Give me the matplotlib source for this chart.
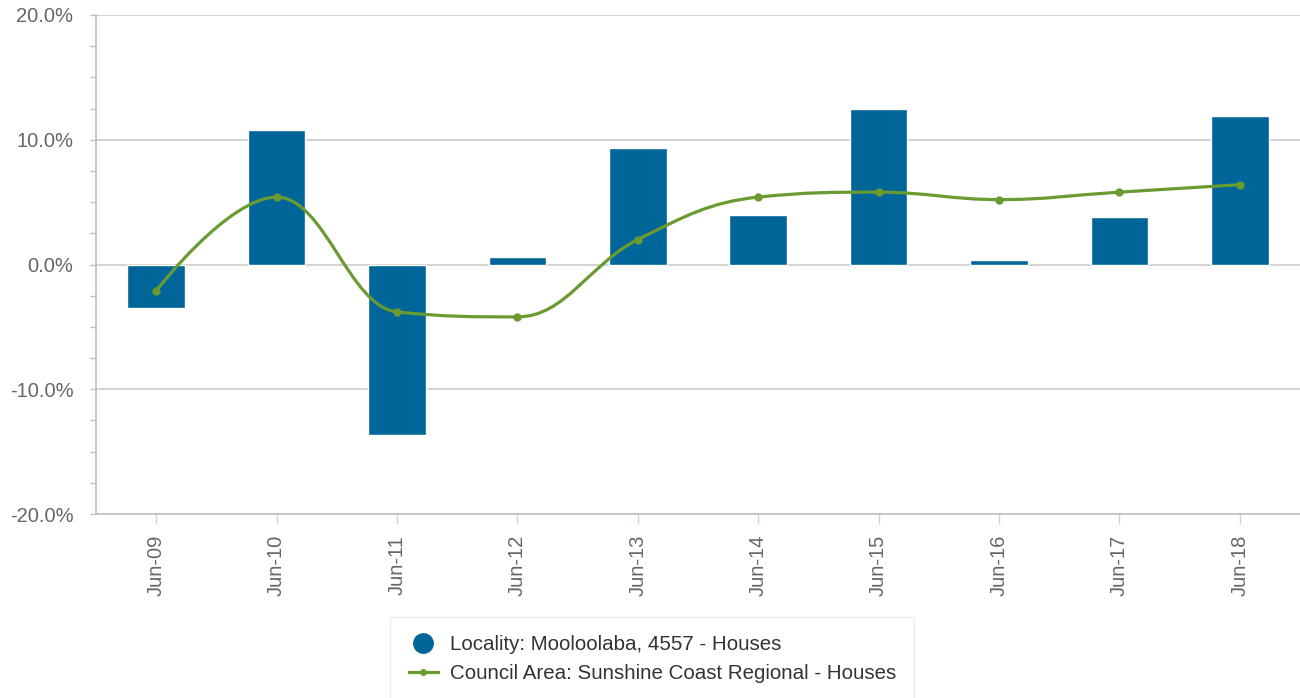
import numpy as np
import matplotlib.pyplot as plt
from matplotlib.path import Path
from matplotlib.patches import PathPatch
from matplotlib.lines import Line2D

plt.rcParams['font.family'] = ['Liberation Sans', 'DejaVu Sans']

months = ['Jun-09', 'Jun-10', 'Jun-11', 'Jun-12', 'Jun-13',
          'Jun-14', 'Jun-15', 'Jun-16', 'Jun-17', 'Jun-18']
locality = [-3.5, 10.8, -13.7, 0.6, 9.3, 4.0, 12.5, 0.35, 3.8, 11.9]
council = [-2.1, 5.4, -3.8, -4.2, 2.0, 5.4, 5.8, 5.2, 5.8, 6.4]

BLUE = '#006699'
GREEN = '#6a9a32'
GREY_TXT = '#666666'


def spline_path(xs, ys, smoothing=1.5):
    # highcharts-style spline: cubic bezier through every point
    n = len(xs)
    lc = [(x, y) for x, y in zip(xs, ys)]
    rc = [(x, y) for x, y in zip(xs, ys)]
    d = smoothing + 1
    for i in range(1, n - 1):
        px, py = xs[i], ys[i]
        lx, ly = xs[i - 1], ys[i - 1]
        nx, ny = xs[i + 1], ys[i + 1]
        lcx = (smoothing * px + lx) / d
        lcy = (smoothing * py + ly) / d
        rcx = (smoothing * px + nx) / d
        rcy = (smoothing * py + ny) / d
        if rcx != lcx:
            corr = (rcy - lcy) * (rcx - px) / (rcx - lcx) + py - rcy
            lcy += corr
            rcy += corr
        if lcy > ly and lcy > py:
            lcy = max(ly, py)
            rcy = 2 * py - lcy
        elif lcy < ly and lcy < py:
            lcy = min(ly, py)
            rcy = 2 * py - lcy
        if rcy > ny and rcy > py:
            rcy = max(ny, py)
            lcy = 2 * py - rcy
        elif rcy < ny and rcy < py:
            rcy = min(ny, py)
            lcy = 2 * py - rcy
        lc[i] = (lcx, lcy)
        rc[i] = (rcx, rcy)
    verts = [(xs[0], ys[0])]
    codes = [Path.MOVETO]
    for i in range(1, n):
        verts += [rc[i - 1], lc[i], (xs[i], ys[i])]
        codes += [Path.CURVE4] * 3
    return Path(verts, codes)


fig = plt.figure(figsize=(13, 6.98), dpi=100)
ax = fig.add_axes([96 / 1300, 1 - 514 / 698, 1204 / 1300, 499 / 698])

x = np.arange(len(months))
ax.bar(x, locality, width=0.48, color=BLUE, edgecolor='white', linewidth=1, zorder=2)

ax.add_patch(PathPatch(spline_path(list(x), council), facecolor='none',
                       edgecolor=GREEN, linewidth=2.3, zorder=3))
ax.plot(x, council, 'o', color=GREEN, markersize=5, zorder=4)

ax.set_xlim(-0.5, 9.5)
ax.set_ylim(-20, 20)
ax.set_yticks([-20, -10, 0, 10, 20])
ax.set_yticklabels(['-20.0%', '-10.0%', '0.0%', '10.0%', '20.0%'])
ax.set_yticks(np.arange(-20, 20.1, 2.5), minor=True)
ax.set_xticks(x)
ax.set_xticklabels(months, rotation=90)

ax.grid(axis='y', color='#cccccc', linewidth=1.2, zorder=0)
for s in ['top', 'right']:
    ax.spines[s].set_visible(False)
ax.spines['left'].set_color('#c0c0c0')
ax.spines['bottom'].set_color('#c0c0c0')
ax.spines['left'].set_linewidth(1.2)
ax.spines['bottom'].set_linewidth(1.2)

ax.tick_params(axis='y', which='both', length=4.3, width=1, color='#c0c0c0',
               labelsize=14.5, labelcolor=GREY_TXT, pad=12)
ax.tick_params(axis='x', length=7.2, width=1, color='#ccd6eb',
               labelsize=14.5, labelcolor=GREY_TXT, pad=8)

handles = [
    Line2D([], [], marker='o', linestyle='none', color=BLUE, markersize=14),
    Line2D([], [], marker='o', color=GREEN, linewidth=2.3, markersize=4),
]
labels = ['Locality: Mooloolaba, 4557 - Houses',
          'Council Area: Sunshine Coast Regional - Houses']
leg = fig.legend(handles, labels, loc='upper left',
                 bbox_to_anchor=(390 / 1300, 1 - 617 / 698), borderaxespad=0,
                 frameon=True, fancybox=False, fontsize=14.8, labelcolor='#333333',
                 handlelength=1.45, handletextpad=0.55, borderpad=0.9,
                 labelspacing=0.45)
leg.get_frame().set_edgecolor('#e6e6e6')
leg.get_frame().set_linewidth(1)

fig.savefig('out.png', dpi=100)
